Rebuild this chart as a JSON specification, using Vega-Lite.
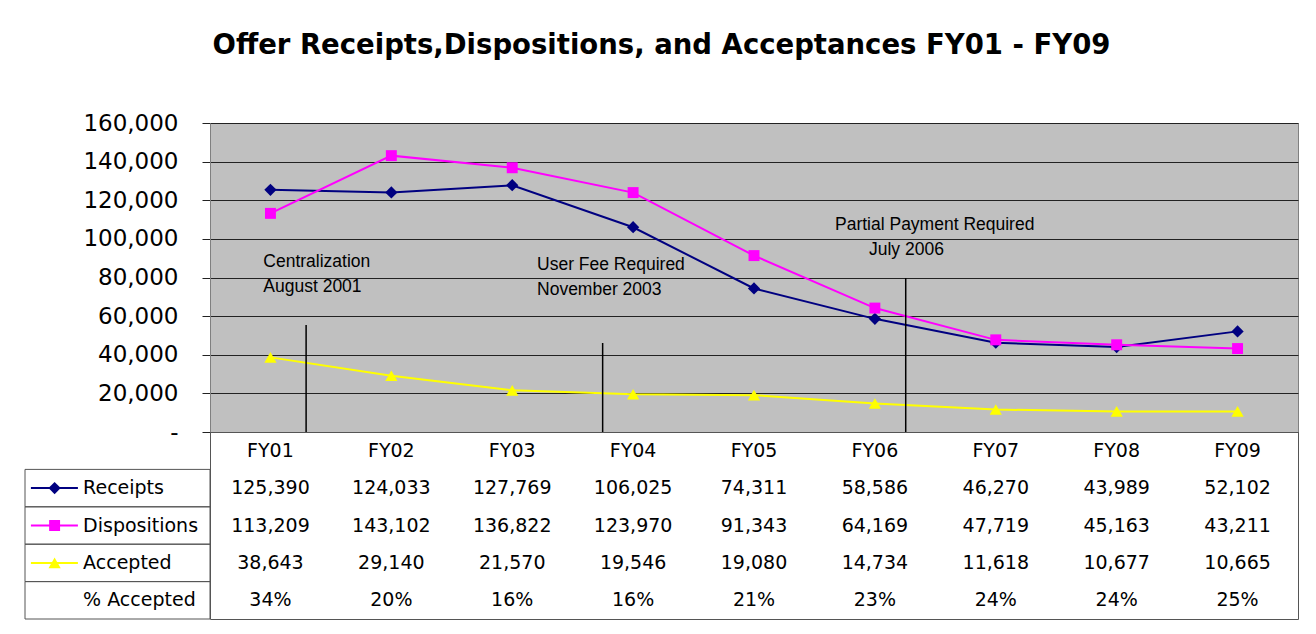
{
  "$schema": "https://vega.github.io/schema/vega-lite/v6.json",
  "background": "white",
  "padding": {"left": 24, "top": 32, "right": 0, "bottom": 0},
  "title": {
    "text": "Offer Receipts,Dispositions, and Acceptances FY01 - FY09",
    "font": "DejaVu Sans", "fontSize": 27.5, "fontWeight": "bold", "color": "black",
    "anchor": "middle", "offset": 52
  },
  "datasets": {
    "offers": [
      {"FY": "FY01", "year": 2001, "Receipts": 125390, "Dispositions": 113209, "Accepted": 38643, "pct": 0.34},
      {"FY": "FY02", "year": 2002, "Receipts": 124033, "Dispositions": 143102, "Accepted": 29140, "pct": 0.20},
      {"FY": "FY03", "year": 2003, "Receipts": 127769, "Dispositions": 136822, "Accepted": 21570, "pct": 0.16},
      {"FY": "FY04", "year": 2004, "Receipts": 106025, "Dispositions": 123970, "Accepted": 19546, "pct": 0.16},
      {"FY": "FY05", "year": 2005, "Receipts": 74311, "Dispositions": 91343, "Accepted": 19080, "pct": 0.21},
      {"FY": "FY06", "year": 2006, "Receipts": 58586, "Dispositions": 64169, "Accepted": 14734, "pct": 0.23},
      {"FY": "FY07", "year": 2007, "Receipts": 46270, "Dispositions": 47719, "Accepted": 11618, "pct": 0.24},
      {"FY": "FY08", "year": 2008, "Receipts": 43989, "Dispositions": 45163, "Accepted": 10677, "pct": 0.24},
      {"FY": "FY09", "year": 2009, "Receipts": 52102, "Dispositions": 43211, "Accepted": 10665, "pct": 0.25}
    ],
    "rows": [
      {"row": "Receipts"}, {"row": "Dispositions"}, {"row": "Accepted"}, {"row": "% Accepted"}
    ],
    "events": [
      {"event": "Centralization", "year": 2001.295, "top": 55400},
      {"event": "User Fee Required", "year": 2003.748, "top": 46100},
      {"event": "Partial Payment Required", "year": 2006.255, "top": 79700}
    ],
    "notes": [
      {"text": "Centralization", "year": 2000.941, "v": 85280},
      {"text": "August 2001", "year": 2000.941, "v": 72650},
      {"text": "User Fee Required", "year": 2003.205, "v": 83880},
      {"text": "November 2003", "year": 2003.205, "v": 70940},
      {"text": "Partial Payment Required", "year": 2005.67, "v": 104600},
      {"text": "July 2006", "year": 2005.951, "v": 91650}
    ]
  },
  "columns": 2,
  "spacing": 0,
  "bounds": "flush",
  "concat": [
    {
      "width": 185, "height": 309,
      "data": {"values": []},
      "mark": "point",
      "view": {"stroke": null}
    },
    {
      "width": 1088, "height": 309,
      "view": {"fill": "#C0C0C0", "stroke": "#808080"},
      "encoding": {
        "x": {"field": "year", "type": "quantitative", "scale": {"domain": [2000.5, 2009.5], "nice": false, "zero": false}, "axis": null},
        "y": {"type": "quantitative",
          "scale": {"domain": [0, 160000], "nice": false, "zero": true},
          "axis": {
            "title": null, "values": [0, 20000, 40000, 60000, 80000, 100000, 120000, 140000, 160000],
            "labelExpr": "datum.value === 0 ? '-\u00a0\u00a0\u00a0\u00a0' : format(datum.value, ',')",
            "labelFont": "DejaVu Sans", "labelFontSize": 23, "labelColor": "black",
            "labelPadding": 24, "tickSize": 8, "tickColor": "#222", "domainColor": "#808080",
            "grid": true, "gridColor": "#222", "gridOpacity": 1
          }}
      },
      "layer": [
        {
          "data": {"name": "offers"},
          "transform": [{"fold": ["Receipts", "Dispositions", "Accepted"], "as": ["series", "value"]}],
          "mark": {"type": "line", "strokeWidth": 2},
          "encoding": {
            "y": {"field": "value"},
            "color": {"field": "series", "type": "nominal",
              "scale": {"domain": ["Receipts", "Dispositions", "Accepted"], "range": ["#000080", "#FF00FF", "#FFFF00"]},
              "legend": null}
          }
        },
        {
          "data": {"name": "offers"},
          "transform": [{"fold": ["Receipts", "Dispositions", "Accepted"], "as": ["series", "value"]}],
          "mark": {"type": "point", "filled": true, "opacity": 1},
          "encoding": {
            "y": {"field": "value"},
            "color": {"field": "series", "type": "nominal",
              "scale": {"domain": ["Receipts", "Dispositions", "Accepted"], "range": ["#000080", "#FF00FF", "#FFFF00"]},
              "legend": null},
            "shape": {"field": "series", "type": "nominal",
              "scale": {"domain": ["Receipts", "Dispositions", "Accepted"], "range": ["diamond", "square", "triangle-up"]},
              "legend": null},
            "size": {"field": "series", "type": "ordinal",
              "scale": {"type": "ordinal", "domain": ["Receipts", "Dispositions", "Accepted"], "range": [150, 120, 150]},
              "legend": null}
          }
        },
        {
          "data": {"name": "events"},
          "mark": {"type": "rule", "color": "black", "strokeWidth": 1.5},
          "encoding": {
            "y": {"field": "top"},
            "y2": {"datum": 0}
          }
        },
        {
          "data": {"name": "notes"},
          "mark": {"type": "text", "align": "left", "baseline": "alphabetic", "font": "Liberation Sans", "fontSize": 17.5, "color": "black"},
          "encoding": {
            "y": {"field": "v"},
            "text": {"field": "text"}
          }
        }
      ]
    },
    {
      "width": 185, "height": 187,
      "view": {"stroke": null},
      "data": {"name": "rows"},
      "layer": [
        {
          "mark": {"type": "rect", "filled": false, "stroke": "#555", "strokeWidth": 1},
          "encoding": {
            "x": {"datum": 0, "type": "quantitative", "scale": {"domain": [0, 1], "nice": false}, "axis": null},
            "x2": {"datum": 1},
            "y": {"field": "row", "type": "nominal",
              "scale": {"type": "band", "domain": ["FY", "Receipts", "Dispositions", "Accepted", "% Accepted"], "paddingInner": 0, "paddingOuter": 0},
              "axis": null}
          }
        },
        {
          "transform": [{"filter": "datum.row !== '% Accepted'"}],
          "mark": {"type": "rule", "strokeWidth": 2},
          "encoding": {
            "x": {"datum": 0.032, "type": "quantitative", "axis": null},
            "x2": {"datum": 0.286},
            "y": {"field": "row", "type": "nominal", "axis": null},
            "color": {"field": "row", "type": "nominal",
              "scale": {"domain": ["Receipts", "Dispositions", "Accepted"], "range": ["#000080", "#FF00FF", "#FFFF00"]},
              "legend": null}
          }
        },
        {
          "transform": [{"filter": "datum.row !== '% Accepted'"}],
          "mark": {"type": "point", "filled": true, "opacity": 1},
          "encoding": {
            "x": {"datum": 0.16, "type": "quantitative", "axis": null},
            "y": {"field": "row", "type": "nominal", "axis": null},
            "color": {"field": "row", "type": "nominal",
              "scale": {"domain": ["Receipts", "Dispositions", "Accepted"], "range": ["#000080", "#FF00FF", "#FFFF00"]},
              "legend": null},
            "shape": {"field": "row", "type": "nominal",
              "scale": {"domain": ["Receipts", "Dispositions", "Accepted"], "range": ["diamond", "square", "triangle-up"]},
              "legend": null},
            "size": {"field": "row", "type": "ordinal",
              "scale": {"type": "ordinal", "domain": ["Receipts", "Dispositions", "Accepted"], "range": [150, 120, 150]},
              "legend": null}
          }
        },
        {
          "mark": {"type": "text", "align": "left", "baseline": "middle", "font": "DejaVu Sans", "fontSize": 19, "color": "black"},
          "encoding": {
            "x": {"datum": 0.314, "type": "quantitative", "axis": null},
            "y": {"field": "row", "type": "nominal", "axis": null},
            "text": {"field": "row"}
          }
        }
      ]
    },
    {
      "width": 1088, "height": 187,
      "view": {"stroke": "#555", "strokeWidth": 1},
      "data": {"name": "offers"},
      "layer": [
        {
          "mark": {"type": "text", "baseline": "middle", "font": "DejaVu Sans", "fontSize": 19, "color": "black"},
          "encoding": {
            "x": {"field": "FY", "type": "nominal",
              "scale": {"type": "band", "paddingInner": 0, "paddingOuter": 0},
              "axis": {"title": null, "labels": false, "ticks": false, "domain": false, "grid": true, "gridColor": "#555", "gridOpacity": 1, "bandPosition": 0}},
            "y": {"datum": "FY", "type": "nominal",
              "scale": {"type": "band", "domain": ["FY", "Receipts", "Dispositions", "Accepted", "% Accepted"], "paddingInner": 0, "paddingOuter": 0},
              "axis": {"title": null, "labels": false, "ticks": false, "domain": false, "grid": true, "gridColor": "#555", "gridOpacity": 1, "bandPosition": 0}},
            "text": {"field": "FY"}
          }
        },
        {
          "transform": [{"fold": ["Receipts", "Dispositions", "Accepted"], "as": ["series", "value"]}],
          "mark": {"type": "text", "baseline": "middle", "font": "DejaVu Sans", "fontSize": 19, "color": "black"},
          "encoding": {
            "x": {"field": "FY", "type": "nominal", "axis": null},
            "y": {"field": "series", "type": "nominal", "axis": null},
            "text": {"field": "value", "type": "quantitative", "format": ","}
          }
        },
        {
          "mark": {"type": "text", "baseline": "middle", "font": "DejaVu Sans", "fontSize": 19, "color": "black"},
          "encoding": {
            "x": {"field": "FY", "type": "nominal", "axis": null},
            "y": {"datum": "% Accepted", "type": "nominal", "axis": null},
            "text": {"field": "pct", "type": "quantitative", "format": ".0%"}
          }
        }
      ]
    }
  ]
}
